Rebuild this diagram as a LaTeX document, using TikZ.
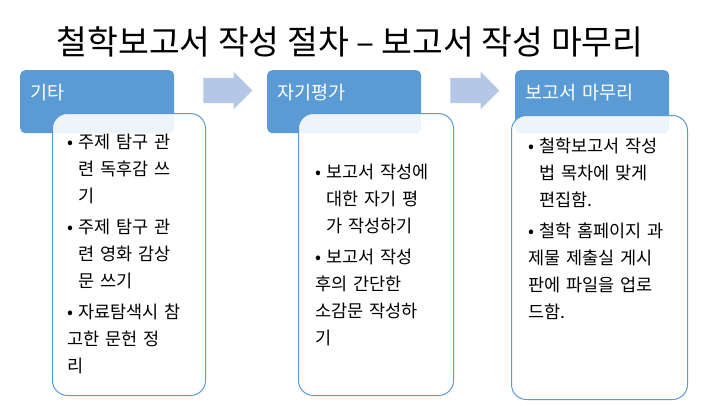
\documentclass[tikz,border=0pt]{standalone}
\usepackage{fontspec}
\setmainfont{Noto Sans CJK KR}
\usetikzlibrary{shapes.arrows, calc}
\definecolor{cHead}{RGB}{91,155,213}
\definecolor{cArrow}{RGB}{180,199,231}
\newcommand{\bitem}[1]{\par\hangindent=11pt\hangafter=1\noindent\makebox[11pt][l]{\textbullet}#1}
\tikzset{
    headbox/.style   ={rectangle, rounded corners=5pt, anchor=north west, fill=cHead, text=white, text width=134pt, align=left, inner xsep=10pt, inner ysep=0pt, text height=29pt, text depth=34pt, font=\fontsize{18.5}{20}\selectfont},
    bodybox/.style   ={rectangle, rounded corners=15pt, anchor=north west, draw=cHead, line width=1pt, fill=white, fill opacity=0.9},
    bodytext/.style  ={anchor=north west, inner sep=0pt, text width=#1, align=left, font=\fontsize{17.5}{27}\selectfont, execute at begin node={\setlength{\parskip}{4pt}}},
    blockarrow/.style={single arrow, fill=cArrow, minimum height=49pt, single arrow head extend=6pt, single arrow head indent=0pt, inner xsep=0pt, inner ysep=12.5pt},
}
\begin{document}
\begin{tikzpicture}[x=1pt, y=-1pt]
        \useasboundingbox (0,0) rectangle (720,405);
        \node[font=\fontsize{33.5}{38}\selectfont] (title) at (350,42) {철학보고서 작성 절차 – 보고서 작성 마무리};

        \node[headbox] (etc)  at (20,70)  {기타};
        \node[headbox] (self) at (267,70) {자기평가};
        \node[headbox] (fin)  at (515,70) {보고서 마무리};

        \node[blockarrow] (arr1) at (221.5,90.5) {};
        \node[blockarrow] (arr2) at (468.5,90.5) {};

        \node[bodybox, minimum width=153pt, minimum height=282pt] (etcbody)  at (52,113)  {};
        \node[bodybox, minimum width=155pt, minimum height=282pt] (selfbody) at (298,113) {};
        \node[bodybox, minimum width=176pt, minimum height=284pt] (finbody)  at (511,115) {};

        \node[bodytext=132pt] (etctext) at ($(etcbody.north west)+(15,4)$) {%
            \bitem{주제 탐구 관\newline 련 독후감 쓰\newline 기}
            \bitem{주제 탐구 관\newline 련 영화 감상\newline 문 쓰기}
            \bitem{자료탐색시 참\newline 고한 문헌 정\newline 리}};
        \node[bodytext=134pt] (selftext) at ($(selfbody.north west)+(17,34)$) {%
            \bitem{보고서 작성에\newline 대한 자기 평\newline 가 작성하기}
            \bitem{보고서 작성\newline 후의 간단한\newline 소감문 작성하\newline 기}};
        \node[bodytext=155pt] (fintext) at ($(finbody.north west)+(17,6)$) {%
            \bitem{철학보고서 작성\newline 법 목차에 맞게\newline 편집함.}
            \bitem{철학 홈페이지 과\newline 제물 제출실 게시\newline 판에 파일을 업로\newline 드함.}};
    \end{tikzpicture}
\end{document}
